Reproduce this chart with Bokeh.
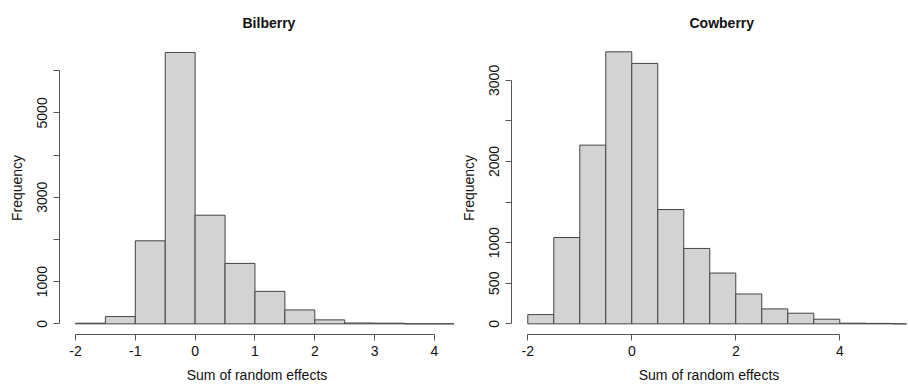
from bokeh.plotting import figure
from bokeh.layouts import row
from bokeh.models import Range1d, FixedTicker, CustomJSTickFormatter
from bokeh.embed import file_html
from bokeh.resources import INLINE

# ---- data ----
bil_edges = [-2.0, -1.5, -1.0, -0.5, 0.0, 0.5, 1.0, 1.5, 2.0, 2.5, 3.0, 3.5, 4.0, 4.5]
bil_counts = [15, 172, 1968, 6432, 2575, 1432, 770, 330, 94, 20, 15, 0, 0]

cow_edges = [-2.0, -1.5, -1.0, -0.5, 0.0, 0.5, 1.0, 1.5, 2.0, 2.5, 3.0, 3.5, 4.0, 4.5, 5.0, 5.5]
cow_counts = [114, 1064, 2202, 3352, 3209, 1408, 929, 626, 368, 184, 131, 57, 8, 5, 0]

bil_xticks = [-2, -1, 0, 1, 2, 3, 4]
bil_yticks_major = [0, 1000, 3000, 5000]
bil_yticks_minor = [2000, 4000, 6000]

cow_xticks = [-2, 0, 2, 4]
cow_yticks_major = [0, 500, 1000, 2000, 3000]
cow_yticks_minor = [1500, 2500]

FONT = "Liberation Sans"
FILL = "#D3D3D3"
EDGE = "#444444"
AXC = "#555555"
TXT = "#111111"


def make_panel(title, edges, counts, xticks, ymaj, ymin, xr, yr, width,
               border_left, border_right, title_offset, xbounds, ybounds):
    p = figure(width=width, height=385, x_range=Range1d(*xr), y_range=Range1d(*yr),
               output_backend="svg", toolbar_location=None,
               min_border_left=border_left, min_border_right=border_right,
               min_border_top=41, min_border_bottom=50)
    p.outline_line_color = None
    p.xgrid.visible = False
    p.ygrid.visible = False
    p.background_fill_color = "white"
    p.border_fill_color = "white"

    p.quad(left=edges[:-1], right=edges[1:], bottom=0, top=counts,
           fill_color=FILL, line_color=EDGE, line_width=1)

    p.title.text = title
    p.title.text_font = FONT
    p.title.text_font_size = "14px"
    p.title.text_font_style = "bold"
    p.title.text_color = TXT
    p.title.align = "left"
    p.title.offset = title_offset
    p.title.standoff = 22

    p.xaxis.ticker = FixedTicker(ticks=xticks)
    p.xaxis.bounds = xbounds
    p.xaxis.formatter = CustomJSTickFormatter(code="return String(tick);")
    p.xaxis.axis_label = "Sum of random effects"
    p.yaxis.ticker = FixedTicker(ticks=ymaj, minor_ticks=ymin)
    p.yaxis.bounds = ybounds
    p.yaxis.formatter = CustomJSTickFormatter(code="return String(tick);")
    p.yaxis.axis_label = "Frequency"
    p.yaxis.major_label_orientation = "vertical"

    for ax in (p.xaxis[0], p.yaxis[0]):
        ax.axis_line_color = AXC
        ax.major_tick_line_color = AXC
        ax.minor_tick_line_color = AXC
        ax.major_tick_in = 0
        ax.major_tick_out = 6
        ax.minor_tick_in = 0
        ax.minor_tick_out = 6
        ax.major_label_text_font = FONT
        ax.major_label_text_font_size = "14px"
        ax.major_label_text_color = TXT
        ax.axis_label_text_font = FONT
        ax.axis_label_text_font_size = "14px"
        ax.axis_label_text_font_style = "normal"
        ax.axis_label_text_color = TXT
    p.xaxis.minor_tick_line_color = None
    p.xaxis.major_label_standoff = 5
    p.xaxis.axis_label_standoff = 8
    p.yaxis.major_label_standoff = 6
    p.yaxis.axis_label_standoff = 10
    return p


p1 = make_panel("Bilberry", bil_edges, bil_counts, bil_xticks,
                bil_yticks_major, bil_yticks_minor,
                (-2.267, 4.335), (-252.8, 6692.0), 454, 59, 0, 183,
                (-2, 4), (0, 6000))
p2 = make_panel("Cowberry", cow_edges, cow_counts, cow_xticks,
                cow_yticks_major, cow_yticks_minor,
                (-2.313, 5.283), (-131.4, 3479.0), 454, 57, 2, 178,
                (-2, 4), (0, 3000))

layout = row(p1, p2)
open("out.html", "w").write(file_html(layout, INLINE))
